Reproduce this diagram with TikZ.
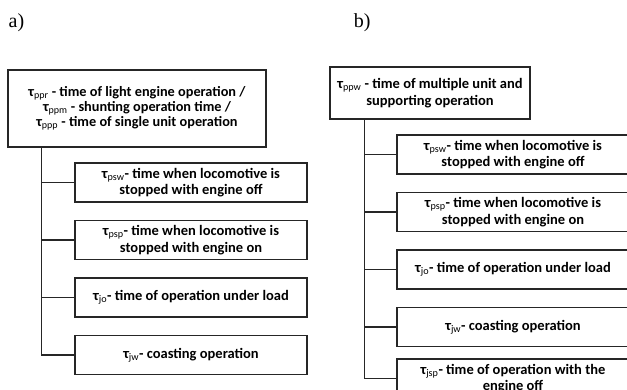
\documentclass[tikz,border=0pt]{standalone}
\usepackage{fontspec}
\setmainfont{Carlito}
\newfontfamily\labelfont{Liberation Serif}
\usetikzlibrary{positioning}

\newcommand{\tausub}[1]{τ\textsubscript{\mdseries #1}}

\begin{document}
\begin{tikzpicture}[x=1pt,y=-1pt,line width=1.5pt,draw=black!85,
                    main box/.style={draw,rectangle,align=center,inner sep=2pt,
                      font=\fontsize{14.5}{16.7}\selectfont\bfseries},
                    sub box/.style={main box,minimum width=232pt,minimum height=39pt},
                    panel label/.style={font=\labelfont\fontsize{20}{20}\selectfont,anchor=base west,inner sep=0pt}]

  \useasboundingbox (0,0) rectangle (627,390);
  \clip (0,0) rectangle (627,390);

  % panel a)
  \node[panel label] (la) at (8,28) {a)};
  \node[main box,minimum width=258pt,minimum height=77pt,font=\fontsize{14.3}{13}\selectfont\bfseries] (ta) at (137,108.5)
    {\tausub{ppr} - time of light engine operation /\\
     \tausub{ppm} - shunting operation time /\\
     \tausub{ppp} - time of single unit operation};
  \node[sub box] (a1) at (191,182.5) {\tausub{psw}- time when locomotive is\\ stopped with engine off};
  \node[sub box] (a2) [below=17pt of a1] {\tausub{psp}- time when locomotive is\\ stopped with engine on};
  \node[sub box] (a3) [below=17pt of a2] {\tausub{jo}- time of operation under load};
  \node[sub box] (a4) [below=17pt of a3] {\tausub{jw}- coasting operation};
  \coordinate (tra) at ([xshift=34pt]ta.south west);

  \draw (tra) |- (a1.west)
        (tra) |- (a2.west)
        (tra) |- (a3.west)
        (tra) |- (a4.west);

  % panel b)
  \node[panel label] (lb) at (353,28) {b)};
  \node[main box,minimum width=200pt,minimum height=52pt] (tb) at (430,93)
    {\tausub{ppw} - time of multiple unit and\\ supporting operation};
  \node[sub box] (b1) at (513,154.5) {\tausub{psw}- time when locomotive is\\ stopped with engine off};
  \node[sub box] (b2) [below=17pt of b1] {\tausub{psp}- time when locomotive is\\ stopped with engine on};
  \node[sub box] (b3) [below=17pt of b2] {\tausub{jo}- time of operation under load};
  \node[sub box] (b4) [below=17pt of b3] {\tausub{jw}- coasting operation};
  \node[sub box,font=\fontsize{14.5}{15.5}\selectfont\bfseries] (b5) [below=11pt of b4] {\tausub{jsp}- time of operation with the\\ engine off};
  \coordinate (trb) at ([xshift=35pt]tb.south west);

  \draw (trb) |- (b1.west)
        (trb) |- (b2.west)
        (trb) |- (b3.west)
        (trb) |- (b4.west)
        (trb) |- (b5.west);
\end{tikzpicture}
\end{document}
